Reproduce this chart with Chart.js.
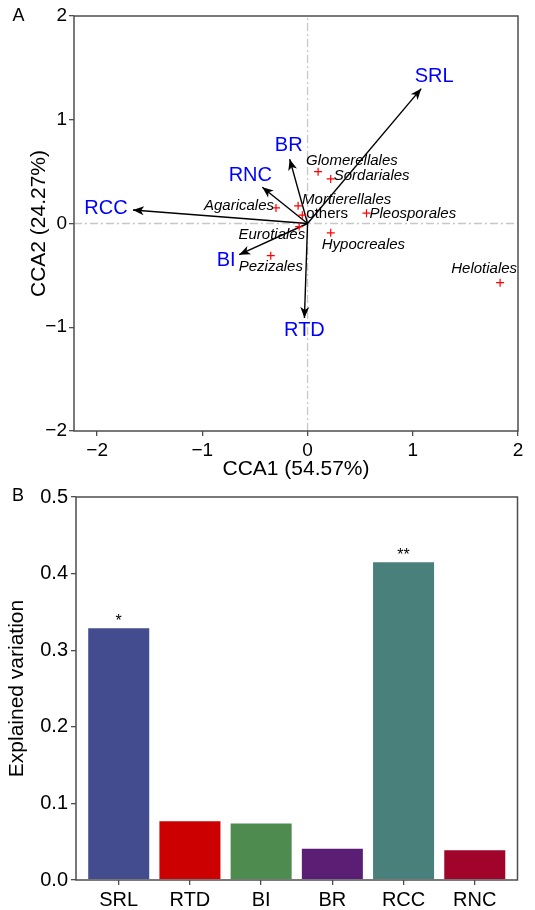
<!DOCTYPE html>
<html>
<head>
<meta charset="utf-8">
<script src="https://cdn.jsdelivr.net/npm/chart.js@4.4.1/dist/chart.umd.min.js"></script>
<style>
  html, body { margin: 0; padding: 0; background: #fff; }
  .panel { position: relative; width: 535px; }
</style>
</head>
<body>
<div class="panel" style="height:482px"><canvas id="chart-cca"></canvas></div>
<div class="panel" style="height:428px"><canvas id="chart-var"></canvas></div>
<script>
const FONT = "'Liberation Sans', Arial, sans-serif";
const INK = '#000';
const FRAME = '#4d4d4d';
const TRAIT_BLUE = '#0000ff';

// panel A: species scores (red crosses)
const speciesNames = ['Glomerellales', 'Sordariales', 'Mortierellales', 'others', 'Pleosporales',
  'Agaricales', 'Eurotiales', 'Hypocreales', 'Pezizales', 'Helotiales'];
const speciesX = [0.10, 0.22, -0.09, -0.05, 0.56, -0.30, -0.08, 0.22, -0.35, 1.83];
const speciesY = [0.50, 0.43, 0.17, 0.08, 0.10, 0.15, -0.03, -0.09, -0.31, -0.57];

// panel A: root trait vectors
const traitNames = ['SRL', 'BR', 'RNC', 'RCC', 'BI', 'RTD'];
const traitX = [1.08, -0.17, -0.43, -1.66, -0.65, -0.03];
const traitY = [1.30, 0.62, 0.35, 0.13, -0.30, -0.91];

const ccaTicks = [-2, -1, 0, 1, 2];

// panel B: explained variation
const varLabels = ['SRL', 'RTD', 'BI', 'BR', 'RCC', 'RNC'];
const varValues = [0.330, 0.078, 0.075, 0.042, 0.416, 0.040];
const varSignif = ['*', '', '', '', '**', ''];
const varColors = ['#424c8e', '#cc0000', '#4e8b4e', '#5a1e74', '#4a807c', '#a0042a'];
const varTicks = [0, 0.1, 0.2, 0.3, 0.4, 0.5];

// label placement, pixel offsets from the mark
const speciesLabelPos = {
  Glomerellales: [-12, -11, 'left'],
  Sordariales: [3, -3, 'left'],
  Mortierellales: [4, -6, 'left'],
  others: [4, -1, 'left'],
  Pleosporales: [3, 1, 'left'],
  Agaricales: [-2, -2, 'right'],
  Eurotiales: [6, 8, 'right'],
  Hypocreales: [-9, 12, 'left'],
  Pezizales: [-32, 11, 'left'],
  Helotiales: [17, -14, 'right'],
};
const traitLabelPos = {
  SRL: [13, -12], BR: [-1, -14], RNC: [-12, -12], RCC: [-27, -2], BI: [-13, 6], RTD: [0, 13],
};

const minus = (v) => String(v).replace('-', '\u2212');

function drawFrame(ctx, a) {
  ctx.save();
  ctx.strokeStyle = FRAME;
  ctx.lineWidth = 1.5;
  ctx.strokeRect(a.left, a.top, a.right - a.left, a.bottom - a.top);
  ctx.restore();
}

function drawLetter(ctx, text, x, y) {
  ctx.save();
  ctx.fillStyle = INK;
  ctx.font = `18px ${FONT}`;
  ctx.textAlign = 'center';
  ctx.textBaseline = 'middle';
  ctx.fillText(text, x, y);
  ctx.restore();
}

function drawHead(ctx, x, y, ang) {
  const L = 11, W = 4.5, notch = 3;
  ctx.save();
  ctx.translate(x, y);
  ctx.rotate(ang);
  ctx.beginPath();
  ctx.moveTo(0, 0);
  ctx.lineTo(-L, -W);
  ctx.lineTo(-L + notch, 0);
  ctx.lineTo(-L, W);
  ctx.closePath();
  ctx.fillStyle = INK;
  ctx.fill();
  ctx.restore();
}

const biplotDecor = {
  id: 'biplotDecor',
  afterDatasetsDraw(chart) {
    const { ctx, scales: { x, y } } = chart;
    const x0 = x.getPixelForValue(0);
    const y0 = y.getPixelForValue(0);
    ctx.save();
    traitNames.forEach((name, i) => {
      const x1 = x.getPixelForValue(traitX[i]);
      const y1 = y.getPixelForValue(traitY[i]);
      drawHead(ctx, x1, y1, Math.atan2(y1 - y0, x1 - x0));
      const [dx, dy] = traitLabelPos[name];
      ctx.fillStyle = TRAIT_BLUE;
      ctx.font = `20px ${FONT}`;
      ctx.textAlign = 'center';
      ctx.textBaseline = 'middle';
      ctx.fillText(name, x1 + dx, y1 + dy);
    });
    speciesNames.forEach((name, i) => {
      const px = x.getPixelForValue(speciesX[i]);
      const py = y.getPixelForValue(speciesY[i]);
      const [dx, dy, align] = speciesLabelPos[name];
      ctx.fillStyle = INK;
      ctx.font = name === 'others' ? `15px ${FONT}` : `italic 15px ${FONT}`;
      ctx.textAlign = align;
      ctx.textBaseline = 'middle';
      ctx.fillText(name, px + dx, py + dy);
    });
    ctx.restore();
  },
  afterDraw(chart) {
    drawFrame(chart.ctx, chart.chartArea);
    drawLetter(chart.ctx, 'A', 18.5, 16.5);
  },
};

const xMin = -2.22, xMax = 2, yMin = -2, yMax = 2;

const ccaDatasets = [
  {
    label: 'species',
    data: speciesX.map((v, i) => ({ x: v, y: speciesY[i] })),
    pointStyle: 'cross',
    pointRadius: 4,
    borderColor: '#ff0000',
    borderWidth: 1.2,
    showLine: false,
  },
  ...traitNames.map((name, i) => ({
    label: name,
    data: [{ x: 0, y: 0 }, { x: traitX[i], y: traitY[i] }],
    showLine: true,
    pointRadius: 0,
    borderColor: INK,
    borderWidth: 1.4,
  })),
  {
    label: 'zero-x',
    data: [{ x: xMin, y: 0 }, { x: xMax, y: 0 }],
    showLine: true, pointRadius: 0,
    borderColor: '#c8c8c8', borderWidth: 1.3, borderDash: [8, 3, 2, 3],
  },
  {
    label: 'zero-y',
    data: [{ x: 0, y: yMin }, { x: 0, y: yMax }],
    showLine: true, pointRadius: 0,
    borderColor: '#c8c8c8', borderWidth: 1.3, borderDash: [8, 3, 2, 3],
  },
];

const axisGrid = { drawOnChartArea: false, drawTicks: true, tickLength: 5, color: FRAME, lineWidth: 1.3 };

new Chart(document.getElementById('chart-cca'), {
  type: 'scatter',
  data: { datasets: ccaDatasets },
  options: {
    responsive: true,
    maintainAspectRatio: false,
    animation: false,
    layout: { padding: { top: 16, right: 17, bottom: 0, left: 0 } },
    plugins: { legend: { display: false }, tooltip: { enabled: false } },
    scales: {
      x: {
        type: 'linear', min: xMin, max: xMax,
        afterBuildTicks: (s) => { s.ticks = ccaTicks.map((v) => ({ value: v })); },
        afterFit: (s) => { s.height = 51; },
        ticks: { font: { family: FONT, size: 19 }, color: INK, padding: 3, maxRotation: 0, callback: minus },
        grid: axisGrid,
        border: { display: false },
        title: { display: true, text: 'CCA1 (54.57%)', font: { family: FONT, size: 21 }, color: INK, padding: { top: 0, bottom: 0 } },
      },
      y: {
        type: 'linear', min: yMin, max: yMax,
        afterBuildTicks: (s) => { s.ticks = ccaTicks.map((v) => ({ value: v })); },
        afterFit: (s) => { s.width = 74; },
        ticks: { font: { family: FONT, size: 19 }, color: INK, padding: 2, callback: minus },
        grid: axisGrid,
        border: { display: false },
        title: { display: true, text: 'CCA2 (24.27%)', font: { family: FONT, size: 21 }, color: INK, padding: { top: 27, bottom: 0 } },
      },
    },
  },
  plugins: [biplotDecor],
});

const barDecor = {
  id: 'barDecor',
  afterDatasetsDraw(chart) {
    const { ctx } = chart;
    const meta = chart.getDatasetMeta(0);
    ctx.save();
    ctx.fillStyle = INK;
    ctx.font = `16px ${FONT}`;
    ctx.textAlign = 'center';
    ctx.textBaseline = 'middle';
    meta.data.forEach((bar, i) => {
      if (varSignif[i]) ctx.fillText(varSignif[i], bar.x, bar.y - 6);
    });
    ctx.restore();
  },
  afterDraw(chart) {
    drawFrame(chart.ctx, chart.chartArea);
    drawLetter(chart.ctx, 'B', 18, 14.5);
  },
};

new Chart(document.getElementById('chart-var'), {
  type: 'bar',
  data: {
    datasets: [{
      label: 'Explained variation',
      data: varValues.map((v, i) => ({ x: i + 1, y: v })),
      backgroundColor: varColors,
      borderColor: 'rgba(255,255,255,0.45)',
      borderWidth: 1,
      categoryPercentage: 1,
      barPercentage: 0.885,
    }],
  },
  options: {
    responsive: true,
    maintainAspectRatio: false,
    animation: false,
    layout: { padding: { top: 15, right: 17.5, bottom: 0, left: 0 } },
    plugins: { legend: { display: false }, tooltip: { enabled: false } },
    scales: {
      x: {
        type: 'linear', min: 0.4, max: 6.6, offset: false,
        afterBuildTicks: (s) => { s.ticks = varLabels.map((_, i) => ({ value: i + 1 })); },
        afterFit: (s) => { s.height = 30; },
        ticks: { font: { family: FONT, size: 20 }, color: INK, padding: 3, maxRotation: 0,
          callback: (v) => varLabels[Math.round(v) - 1] },
        grid: { ...axisGrid, offset: false },
        border: { display: false },
      },
      y: {
        type: 'linear', min: 0, max: 0.5,
        afterBuildTicks: (s) => { s.ticks = varTicks.map((v) => ({ value: v })); },
        afterFit: (s) => { s.width = 76; },
        ticks: { font: { family: FONT, size: 20 }, color: INK, padding: 3, callback: (v) => v.toFixed(1) },
        grid: axisGrid,
        border: { display: false },
        title: { display: true, text: 'Explained variation', font: { family: FONT, size: 21 }, color: INK, padding: { top: 5, bottom: 0 } },
      },
    },
  },
  plugins: [barDecor],
});
</script>
</body>
</html>
